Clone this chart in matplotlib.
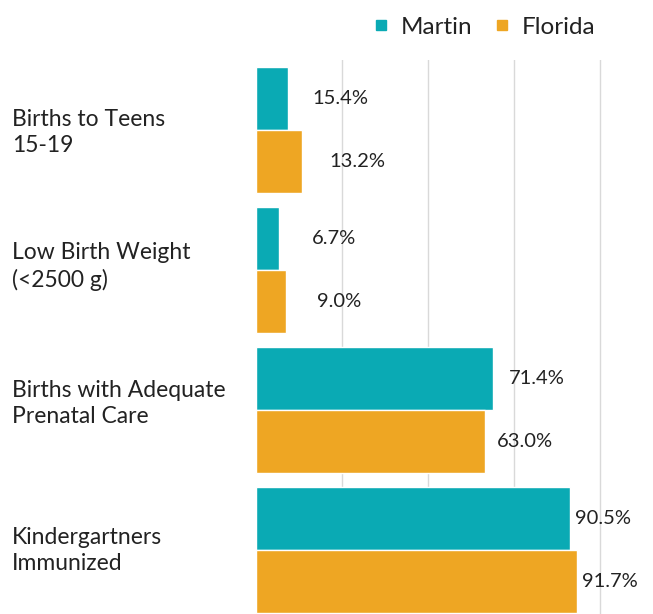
import matplotlib.pyplot as plt
import matplotlib.transforms as mtransforms
from matplotlib.lines import Line2D
import numpy as np

plt.rcParams['font.family'] = ['Lato', 'DejaVu Sans']

# categories and series
categories = ['Births to Teens\n15-19', 'Low Birth Weight\n(<2500 g)',
              'Births with Adequate\nPrenatal Care', 'Kindergartners\nImmunized']
series = ['Martin', 'Florida']
# bar lengths as drawn in the chart (gridlines every 25)
martin = [9.2, 6.7, 69.0, 91.3]
florida = [13.5, 8.7, 66.6, 93.4]
# the data labels shown next to the bars
martin_labels = ['15.4%', '6.7%', '71.4%', '90.5%']
florida_labels = ['13.2%', '9.0%', '63.0%', '91.7%']

teal = '#0aaab4'
orange = '#eea623'
text_col = '#222222'

fig = plt.figure(figsize=(6.53, 6.14), dpi=100)
W, H = 653, 614
ax = fig.add_axes([256 / W, 1 - 620 / H, (638 - 256) / W, (620 - 60) / H])

y = np.arange(len(categories))
h = 0.45
ax.barh(y - h / 2, martin, height=h, color=teal, edgecolor='white', linewidth=1, zorder=2)
ax.barh(y + h / 2, florida, height=h, color=orange, edgecolor='white', linewidth=1, zorder=2)

ax.set_xlim(0, 111)
ax.set_ylim(len(categories) - 0.5, -0.5)
ax.set_xticks([25, 50, 75, 100])
ax.xaxis.grid(True, color='#d9d9d9', linewidth=1, zorder=0)
ax.tick_params(left=False, bottom=False, labelleft=False, labelbottom=False)
for s in ax.spines.values():
    s.set_visible(False)

# pixel gaps between bar end and its label
pad_m = [25, 33, 15, 5]
pad_f = [27, 31, 12, 5]
for i in range(len(categories)):
    ax.annotate(martin_labels[i], (martin[i], y[i] - h / 2), xytext=(pad_m[i], 0),
                textcoords='offset pixels', va='center', ha='left', fontsize=14.5, color=text_col)
    ax.annotate(florida_labels[i], (florida[i], y[i] + h / 2), xytext=(pad_f[i], 0),
                textcoords='offset pixels', va='center', ha='left', fontsize=14.5, color=text_col)

trans = mtransforms.blended_transform_factory(fig.transFigure, ax.transData)
label_shift = [0.02, -0.025, -0.045, 0.005]
for i, c in enumerate(categories):
    ax.text(12 / W, y[i] + label_shift[i], c, transform=trans, ha='left', va='center',
            fontsize=16.5, color=text_col, linespacing=1.3)

handles = [Line2D([], [], marker='s', linestyle='', color=teal, markersize=7),
           Line2D([], [], marker='s', linestyle='', color=orange, markersize=7)]
fig.legend(handles, series, loc='center', bbox_to_anchor=(484 / W, 1 - 27 / H), ncol=2,
           frameon=False, fontsize=17.5, handlelength=0.7, handletextpad=0.45, columnspacing=0.9,
           labelcolor=text_col)

fig.savefig('out.png', dpi=100)
